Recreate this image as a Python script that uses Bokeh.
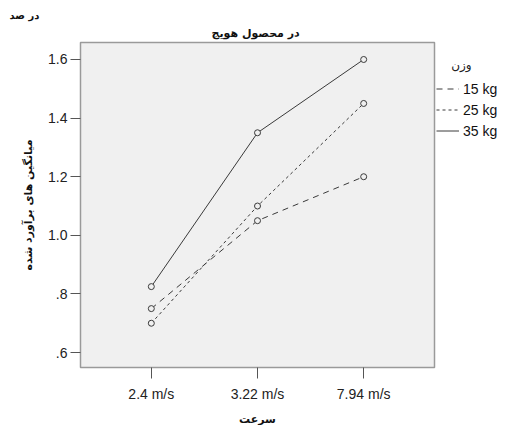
from bokeh.plotting import figure
from bokeh.models import Legend, LegendItem, FixedTicker, Range1d, Title
from bokeh.embed import file_html
from bokeh.resources import INLINE

speeds = ["2.4 m/s", "3.22 m/s", "7.94 m/s"]
x_pos = [1, 2, 3]
w15 = [0.75, 1.05, 1.20]
w25 = [0.70, 1.10, 1.45]
w35 = [0.825, 1.35, 1.60]
y_ticks = [0.6, 0.8, 1.0, 1.2, 1.4, 1.6]
y_tick_labels = [".6", ".8", "1.0", "1.2", "1.4", "1.6"]
weights = ["15 kg", "25 kg", "35 kg"]

TXT = "Liberation Sans"
AR = "DejaVu Sans"

p = figure(frame_width=354, frame_height=325, output_backend="svg",
           toolbar_location=None,
           x_range=Range1d(0.333, 3.667), y_range=Range1d(0.549, 1.658),
           min_border_left=80, min_border_right=65, min_border_top=42,
           min_border_bottom=57, title="در صد")

# small top-left caption (outermost title)
p.title.align = "left"
p.title.offset = -71
p.title.standoff = 1
p.title.text_font = AR
p.title.text_font_size = "10px"
p.title.text_font_style = "bold"
p.title.text_color = "#111"

# main chart title (next to the frame)
p.add_layout(Title(text="در محصول  هویج", align="center", standoff=6,
                   text_font=AR, text_font_size="11px",
                   text_font_style="bold", text_color="#111"), "above")

p.background_fill_color = "#f0f0f0"
p.border_fill_color = "white"
p.outline_line_color = "#9a9a9a"
p.outline_line_width = 1.5
p.grid.visible = False

for ax in (p.xaxis[0], p.yaxis[0]):
    ax.axis_line_color = None
    ax.major_tick_in = 0
    ax.major_tick_line_color = "#555"
    ax.minor_tick_line_color = None
    ax.major_label_text_font = TXT
    ax.major_label_text_font_size = "14px"
    ax.major_label_text_color = "#222"
    ax.axis_label_text_font = AR
    ax.axis_label_text_font_size = "11px"
    ax.axis_label_text_font_style = "bold"
    ax.axis_label_text_color = "#111"

p.xaxis.ticker = FixedTicker(ticks=x_pos)
p.xaxis.major_label_overrides = {x: s for x, s in zip(x_pos, speeds)}
p.xaxis.axis_label = "سرعت"
p.xaxis.major_tick_out = 11
p.xaxis.major_label_standoff = 7
p.xaxis.axis_label_standoff = 8

p.yaxis.ticker = FixedTicker(ticks=y_ticks)
p.yaxis.major_label_overrides = {t: s for t, s in zip(y_ticks, y_tick_labels)}
p.yaxis.axis_label = "میانگین های برآورد شده"
p.yaxis.major_tick_out = 10
p.yaxis.major_label_standoff = 3
p.yaxis.axis_label_standoff = 10

col = "#3a3a3a"
dashes = ["6 5", "3 3", "solid"]
items = []
for name, ys, dash in zip(weights, [w15, w25, w35], dashes):
    r = p.line(x_pos, ys, line_color=col, line_width=1, line_dash=dash)
    p.scatter(x_pos, ys, marker="circle", size=6, line_color=col,
              fill_color="#f0f0f0", line_width=1)
    items.append(LegendItem(label=name, renderers=[r]))

legend = Legend(items=items, location=(2, 226),
                title="\u00a0\u00a0\u00a0\u00a0وزن",
                title_text_font=AR, title_text_font_size="12px",
                title_text_font_style="normal", title_text_color="#222",
                label_text_font=TXT, label_text_font_size="14px",
                label_text_color="#111", glyph_width=23, glyph_height=21,
                label_height=21, label_standoff=4, spacing=0, padding=0,
                margin=0, background_fill_alpha=0, border_line_color=None,
                title_standoff=6)
p.add_layout(legend, "right")

open("out.html", "w").write(file_html(p, INLINE))
